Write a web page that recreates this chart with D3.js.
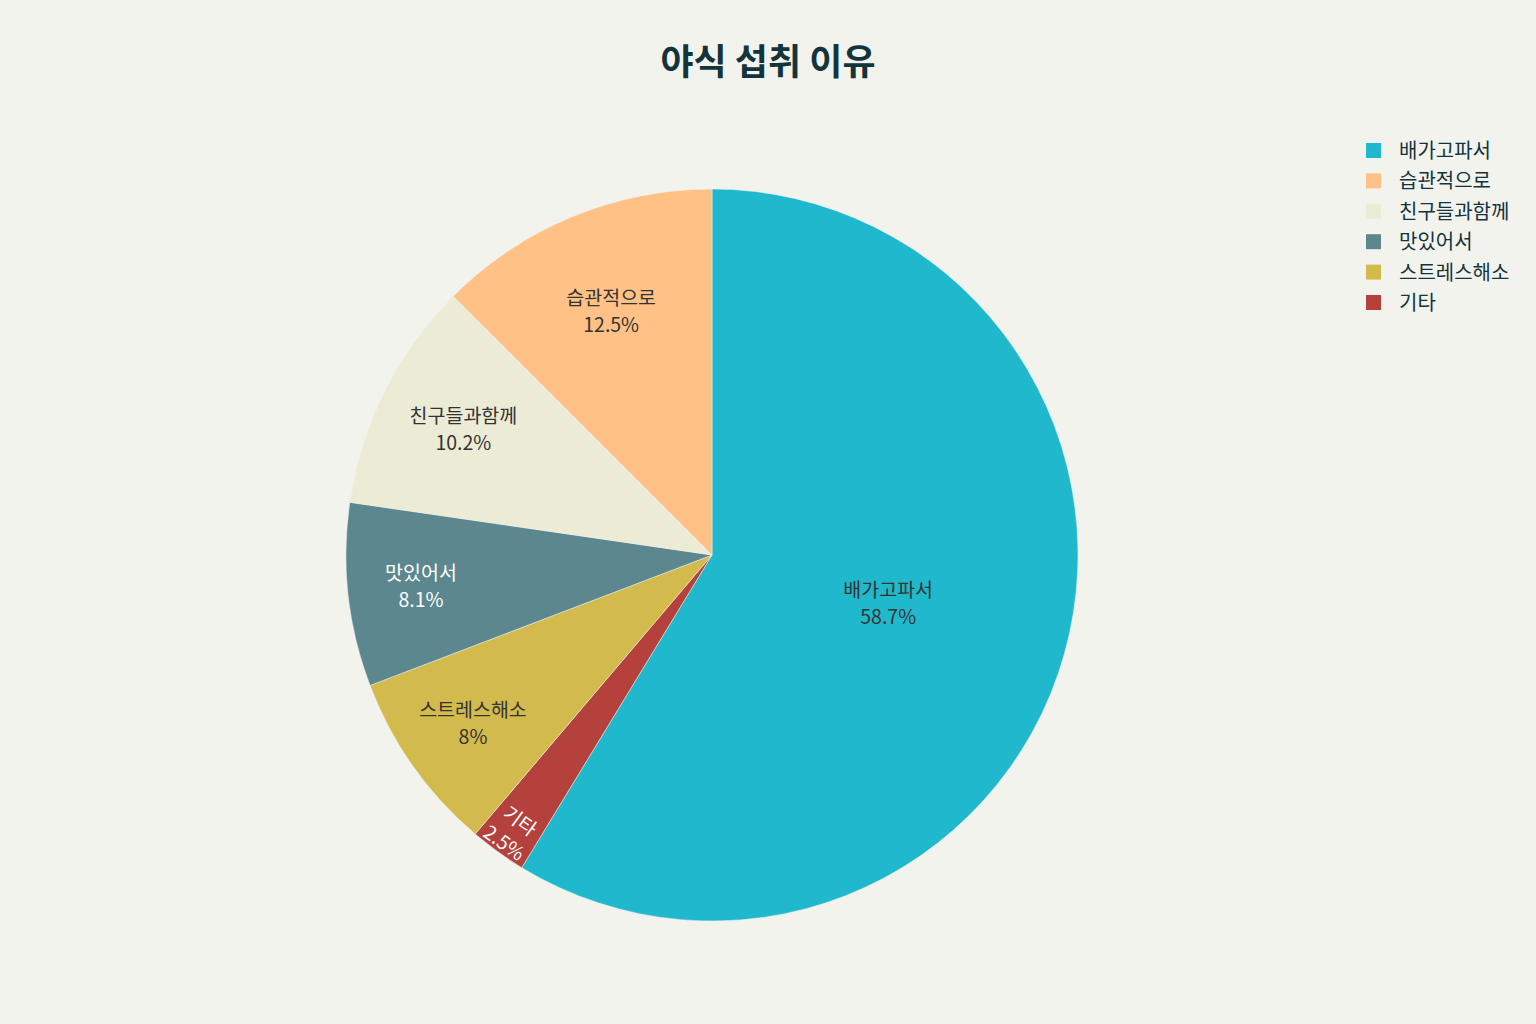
<!DOCTYPE html>
<html><head><meta charset="utf-8">
<script src="https://cdn.jsdelivr.net/npm/d3@7"></script>
<style>
html,body{margin:0;padding:0;background:#F3F3EE;}
svg{display:block;font-family:"Noto Sans CJK KR","Noto Sans",sans-serif;}
</style></head>
<body><svg id="c" width="1536" height="1024"></svg>
<script>
const title = "야식 섭취 이유";
const categories = ["배가고파서","기타","스트레스해소","맛있어서","친구들과함께","습관적으로"];
const values = [58.7, 2.5, 8, 8.1, 10.2, 12.5];
const legendOrder = ["배가고파서","습관적으로","친구들과함께","맛있어서","스트레스해소","기타"];
const colors = ["#1FB8CD","#B4413C","#D2BA4C","#5D878F","#ECEBD5","#FFC185"];
const textColors = ["#333333","#FFFFFF","#333333","#FFFFFF","#333333","#333333"];

const svg = d3.select("#c");
const cx = 712, cy = 555, R = 366;

svg.append("text").attr("x", 768).attr("y", 75).attr("text-anchor","middle")
  .attr("font-size", 36).attr("font-weight", 700).attr("fill", "#13343B").text(title);

const data = categories.map((c,i)=>({cat:c, val:values[i], color:colors[i], tc:textColors[i]}));
const pie = d3.pie().sort(null).value(d=>d.val);
const arcs = pie(data);
const arc = d3.arc().innerRadius(0).outerRadius(R);
const g = svg.append("g").attr("transform", `translate(${cx},${cy})`);
g.selectAll("path").data(arcs).enter().append("path")
  .attr("d", arc).attr("fill", d=>d.data.color)
  .attr("stroke", "#F3F3EE").attr("stroke-width", 0.5);

// radial placement factor for inside labels
const radFactor = {"배가고파서":0.5,"기타":0.935,"스트레스해소":0.8,"맛있어서":0.8,"친구들과함께":0.76,"습관적으로":0.72};
arcs.forEach(a=>{
  const mid = (a.startAngle + a.endAngle)/2;
  const r = R * radFactor[a.data.cat];
  const x = Math.sin(mid)*r, y = -Math.cos(mid)*r;
  let rot = 0;
  if (a.data.cat === "기타") rot = (mid*180/Math.PI) - 180;
  const t = g.append("g").attr("transform", `translate(${x},${y}) rotate(${rot})`);
  const txt = t.append("text").attr("text-anchor","middle").attr("font-size", 19.5).attr("fill", a.data.tc);
  txt.append("tspan").attr("x",0).attr("y",-7).text(a.data.cat);
  txt.append("tspan").attr("x",0).attr("y",20).text(d3.format("")(a.data.val) + "%");
});

// legend
const lg = svg.append("g").attr("transform","translate(1366,143)");
legendOrder.forEach((c,i)=>{
  const idx = categories.indexOf(c);
  const row = lg.append("g").attr("transform", `translate(0,${i*30.4})`);
  row.append("rect").attr("width",15).attr("height",15).attr("fill", colors[idx]);
  row.append("text").attr("x",33).attr("y",15).attr("font-size",20).attr("fill","#13343B").text(c);
});
</script></body></html>
